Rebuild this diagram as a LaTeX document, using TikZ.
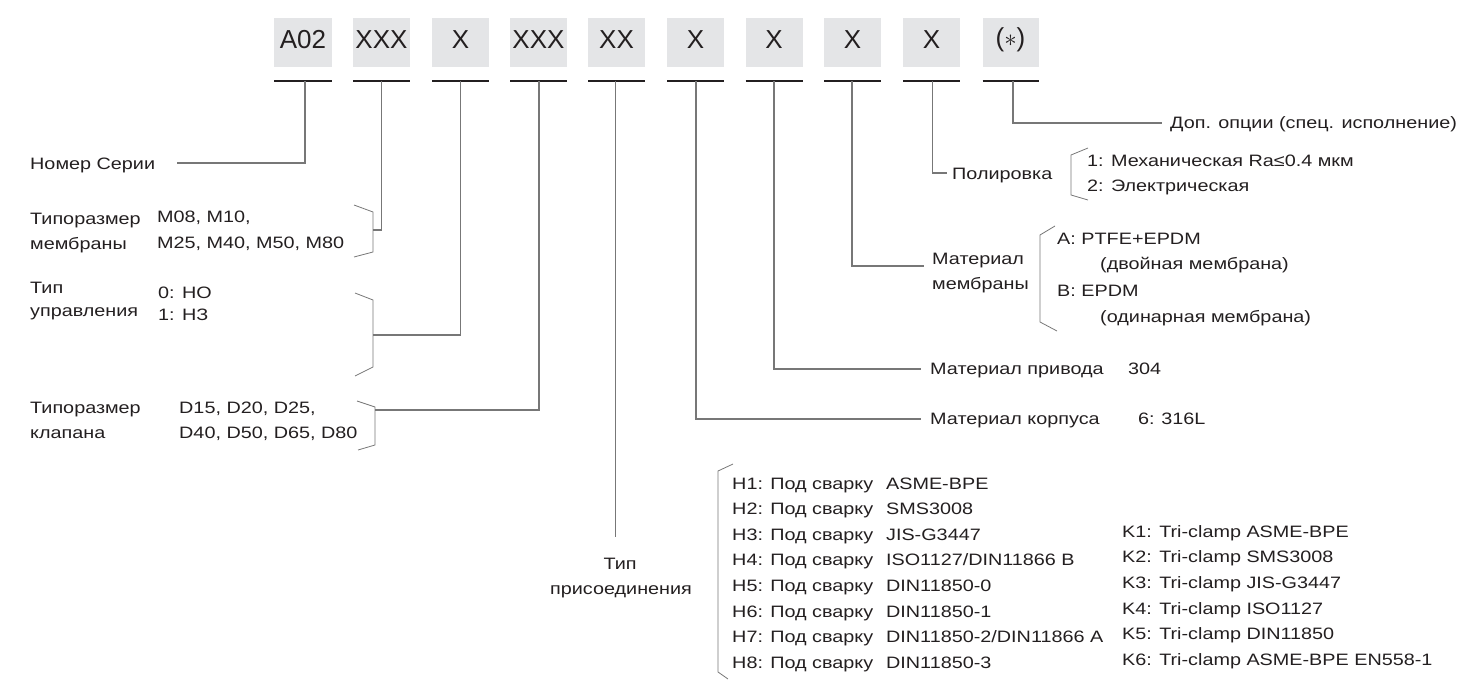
\documentclass[tikz,border=0pt]{standalone}
\usepackage{fontspec}
\setmainfont{Liberation Sans}
\newfontfamily\widefont[FakeStretch=1.2]{Liberation Sans}
\usetikzlibrary{calc}

\definecolor{boxgray}{HTML}{E4E5E7}
\definecolor{linegray}{HTML}{777777}
\definecolor{ink}{HTML}{231F20}

\tikzset{
  code/.style={inner sep=0pt, text=ink, font=\fontsize{26}{26}\selectfont},
  lbl/.style={anchor=base west, inner sep=0pt, text=ink, font=\widefont\fontsize{16.5}{19}\selectfont},
  conn/.style={draw=linegray, line width=1.1pt},
  brk/.style={draw=linegray, line width=0.8pt},
  bar/.style={draw=ink, line width=2.4pt}
}

\begin{document}
\begin{tikzpicture}[x=1pt,y=-1pt]
  \useasboundingbox (0,0) rectangle (1478,680);

  % code boxes and bars
  \foreach \cx/\w/\t [count=\i] in {303/58/A02, 381.5/57/XXX, 460.5/57/X, 538.5/57/XXX,
      616.5/57/XX, 695.5/57/X, 774/57/X, 852.5/57/X, 931.5/57/X, 1010.5/56/{($\ast$)}}{
    \fill[boxgray] (\cx-\w/2,18) rectangle (\cx+\w/2,67);
    \node[code] (c\i) at (\cx,40) {\t};
    \draw[bar] (\cx-\w/2,81) -- (\cx+\w/2,81);
  }
  % tap points on the bars
  \foreach \x [count=\i] in {305, 381.5, 460.5, 539, 615.5, 696, 774, 852, 932.5, 1013}
    \coordinate (b\i) at (\x,81);

  % left side
  \node[lbl] (ser) at (30,169) {Номер Серии};
  \coordinate (ser-e) at (177,163);
  \draw[conn] (b1) |- (ser-e);

  \node[lbl] (mem1) at (30,224) {Типоразмер};
  \node[lbl] (mem2) at (30,249) {мембраны};
  \node[lbl] (memv1) at (157,222) {M08, M10,};
  \node[lbl] (memv2) at (157,248) {M25, M40, M50, M80};
  \draw[brk] (354,205) -- (373,212) -- (373,252) -- (354,257);
  \coordinate (mem-m) at (373,230);
  \draw[conn] (b2) |- (mem-m);

  \node[lbl] (upr1) at (30,293) {Тип};
  \node[lbl] (upr2) at (30,316) {управления};
  \node[lbl] (uprv1) at (158,298) {0: НО};
  \node[lbl] (uprv2) at (158,320) {1: НЗ};
  \draw[brk] (355,293) -- (373,300) -- (373,367) -- (355,376);
  \coordinate (upr-m) at (373,335);
  \draw[conn] (b3) |- (upr-m);

  \node[lbl] (kl1) at (30,413) {Типоразмер};
  \node[lbl] (kl2) at (30,438) {клапана};
  \node[lbl] (klv1) at (179,413) {D15, D20, D25,};
  \node[lbl] (klv2) at (179,438) {D40, D50, D65, D80};
  \draw[brk] (357,401) -- (375,407) -- (375,445) -- (358,450);
  \coordinate (kl-m) at (375,410);
  \draw[conn] (b4) |- (kl-m);

  % connection type
  \node[lbl, anchor=base] (tip1) at (620,569) {Тип};
  \node[lbl, anchor=base] (tip2) at (621,594) {присоединения};
  \coordinate (tip-n) at (615.5,537);
  \draw[conn] (b5) -- (tip-n);
  \draw[brk] (733,464) -- (718,471) -- (718,672) -- (728,679);
  \foreach \t [count=\i] in {ASME-BPE, SMS3008, JIS-G3447, ISO1127/DIN11866 B,
      DIN11850-0, DIN11850-1, DIN11850-2/DIN11866 A, DIN11850-3}
    \node[lbl] (h\i) at (732,{489+25.6*(\i-1)}) {H\i: Под сварку\hspace{0.45em} \t};
  \foreach \t [count=\i] in {ASME-BPE, SMS3008, JIS-G3447, ISO1127, DIN11850, ASME-BPE EN558-1}
    \node[lbl] (k\i) at (1122,{486+25.6*(\i+1)}) {K\i: Tri-clamp \t};

  % right side
  \node[lbl] (korp) at (930,424) {Материал корпуса};
  \node[lbl] (korpv) at (1138,424) {6:\hspace{0.4em}316L};
  \coordinate (korp-w) at (921,419);
  \draw[conn] (b6) |- (korp-w);

  \node[lbl] (priv) at (930,374) {Материал привода};
  \node[lbl] (privv) at (1128,374) {304};
  \coordinate (priv-w) at (921,369);
  \draw[conn] (b7) |- (priv-w);

  \node[lbl] (mm1) at (932,264) {Материал};
  \node[lbl] (mm2) at (932,289) {мембраны};
  \coordinate (mm-w) at (924,266);
  \draw[conn] (b8) |- (mm-w);
  \draw[brk] (1055,226) -- (1040,235) -- (1040,322) -- (1057,331);
  \node[lbl] (mmA) at (1057,244) {A: PTFE+EPDM};
  \node[lbl] (mmA2) at (1100,269) {(двойная мембрана)};
  \node[lbl] (mmB) at (1057,296) {B: EPDM};
  \node[lbl] (mmB2) at (1100,322) {(одинарная мембрана)};

  \node[lbl] (pol) at (952,179) {Полировка};
  \coordinate (pol-w) at (947,173);
  \draw[conn] (b9) |- (pol-w);
  \draw[brk] (1088,148) -- (1071,155) -- (1071,195) -- (1088,200);
  \node[lbl] (pol1) at (1087,166) {1: Механическая Ra≤0.4 мкм};
  \node[lbl] (pol2) at (1087,191) {2: Электрическая};

  \node[lbl] (dop) at (1170,128) {Доп. опции (спец. исполнение)};
  \coordinate (dop-w) at (1162,123);
  \draw[conn] (b10) |- (dop-w);
\end{tikzpicture}
\end{document}
